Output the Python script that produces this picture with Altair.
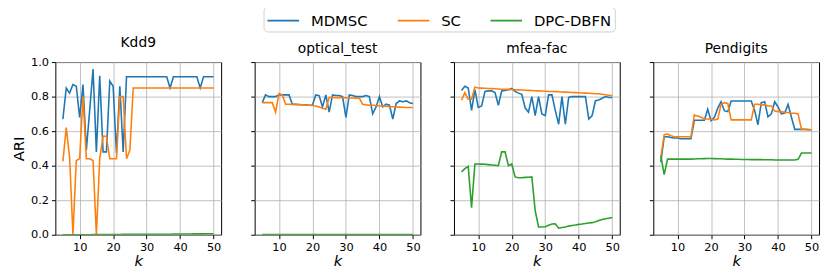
import altair as alt
import pandas as pd

K = list(range(5, 51))
DATASETS = ["Kdd9", "optical_test", "mfea-fac", "Pendigits"]
METHODS = ["MDMSC", "SC", "DPC-DBFN"]
COLORS = ["#1f77b4", "#ff7f0e", "#2ca02c"]

kdd9_mdmsc = [0.67, 0.85, 0.82, 0.87, 0.86, 0.68, 0.87, 0.49, 0.72, 0.96,
              0.48, 0.92, 0.48, 0.48, 0.89, 0.86, 0.47, 0.86, 0.48, 0.915,
              0.915, 0.915, 0.915, 0.915, 0.915, 0.915, 0.915, 0.915, 0.915, 0.915,
              0.915, 0.915, 0.85, 0.915, 0.915, 0.915, 0.915, 0.915, 0.915, 0.915,
              0.915, 0.85, 0.915, 0.915, 0.915, 0.915]
kdd9_sc = [0.425, 0.62, 0.45, 0.0, 0.43, 0.44, 0.80, 0.44, 0.44, 0.43,
           0.0, 0.44, 0.57, 0.57, 0.44, 0.44, 0.44, 0.80, 0.80, 0.44,
           0.49, 0.85, 0.85, 0.85, 0.85, 0.85, 0.85, 0.85, 0.85, 0.85,
           0.85, 0.85, 0.85, 0.85, 0.85, 0.85, 0.85, 0.85, 0.85, 0.85,
           0.85, 0.85, 0.85, 0.85, 0.85, 0.85]
kdd9_dpc = [0.0, 0.0, 0.0, 0.0, 0.0, 0.0, 0.0, 0.0, 0.0, 0.001,
            0.001, 0.001, 0.001, 0.001, 0.001, 0.001, 0.001, 0.001, 0.002, 0.002,
            0.002, 0.002, 0.002, 0.002, 0.002, 0.002, 0.003, 0.003, 0.003, 0.003,
            0.003, 0.003, 0.003, 0.004, 0.004, 0.004, 0.004, 0.004, 0.004, 0.005,
            0.005, 0.005, 0.005, 0.006, 0.006, 0.006]

opt_mdmsc = [0.765, 0.81, 0.80, 0.80, 0.80, 0.81, 0.81, 0.81, 0.81, 0.756,
             0.755, 0.754, 0.753, 0.752, 0.75, 0.75, 0.81, 0.806, 0.74, 0.81,
             0.71, 0.81, 0.806, 0.806, 0.80, 0.68, 0.81, 0.806, 0.80, 0.80,
             0.80, 0.806, 0.80, 0.70, 0.74, 0.80, 0.74, 0.756, 0.75, 0.67,
             0.76, 0.775, 0.77, 0.775, 0.765, 0.76]
opt_sc = [0.765, 0.765, 0.765, 0.765, 0.71, 0.817, 0.81, 0.756, 0.756, 0.755,
          0.754, 0.753, 0.752, 0.751, 0.75, 0.748, 0.746, 0.74, 0.733, 0.727,
          0.795, 0.795, 0.794, 0.794, 0.793, 0.793, 0.792, 0.792, 0.791, 0.791,
          0.755, 0.752, 0.75, 0.75, 0.748, 0.746, 0.745, 0.744, 0.742, 0.741,
          0.74, 0.739, 0.738, 0.737, 0.737, 0.737]
opt_dpc = [0.001, 0.001, 0.001, 0.001, 0.001, 0.001, 0.001, 0.001, 0.001, 0.001,
           0.001, 0.001, 0.001, 0.001, 0.001, 0.001, 0.001, 0.001, 0.001, 0.001,
           0.001, 0.001, 0.001, 0.001, 0.001, 0.001, 0.001, 0.001, 0.001, 0.001,
           0.001, 0.001, 0.001, 0.001, 0.001, 0.001, 0.001, 0.001, 0.001, 0.001,
           0.001, 0.001, 0.001, 0.001, 0.001, 0.001]

mfea_mdmsc = [0.836, 0.86, 0.85, 0.72, 0.84, 0.737, 0.746, 0.83, 0.833, 0.833,
              0.823, 0.75, 0.833, 0.836, 0.84, 0.848, 0.83, 0.82, 0.813, 0.735,
              0.71, 0.80, 0.69, 0.80, 0.70, 0.69, 0.81, 0.81, 0.72, 0.64,
              0.80, 0.64, 0.795, 0.80, 0.80, 0.80, 0.80, 0.80, 0.67, 0.69,
              0.776, 0.78, 0.79, 0.80, 0.795, 0.795]
mfea_sc = [0.78, 0.823, 0.785, 0.785, 0.855, 0.85, 0.849, 0.848, 0.847, 0.846,
           0.845, 0.844, 0.843, 0.842, 0.842, 0.841, 0.84, 0.839, 0.838, 0.837,
           0.836, 0.835, 0.834, 0.833, 0.832, 0.831, 0.83, 0.83, 0.829, 0.828,
           0.827, 0.826, 0.825, 0.824, 0.823, 0.822, 0.821, 0.82, 0.819, 0.818,
           0.817, 0.816, 0.814, 0.811, 0.808, 0.805]
mfea_dpc = [0.364, 0.383, 0.396, 0.157, 0.41, 0.41, 0.409, 0.408, 0.406, 0.404,
            0.402, 0.40, 0.48, 0.48, 0.40, 0.41, 0.335, 0.33, 0.33, 0.332,
            0.333, 0.335, 0.14, 0.045, 0.045, 0.046, 0.055, 0.062, 0.063, 0.038,
            0.042, 0.045, 0.05, 0.053, 0.056, 0.06, 0.062, 0.065, 0.068, 0.07,
            0.075, 0.082, 0.088, 0.092, 0.096, 0.10]

pen_mdmsc = [0.42, 0.567, 0.567, 0.563, 0.56, 0.56, 0.556, 0.556, 0.556, 0.556,
             0.663, 0.663, 0.663, 0.663, 0.727, 0.66, 0.68, 0.733, 0.77, 0.717,
             0.713, 0.775, 0.775, 0.775, 0.775, 0.775, 0.775, 0.775, 0.72, 0.637,
             0.765, 0.77, 0.683, 0.70, 0.77, 0.74, 0.70, 0.705, 0.755, 0.68,
             0.61, 0.61, 0.61, 0.61, 0.608, 0.608]
pen_sc = [0.45, 0.58, 0.583, 0.573, 0.567, 0.567, 0.567, 0.567, 0.567, 0.567,
          0.694, 0.688, 0.68, 0.67, 0.67, 0.67, 0.665, 0.67, 0.756, 0.765,
          0.76, 0.665, 0.665, 0.665, 0.665, 0.665, 0.665, 0.665, 0.756, 0.756,
          0.752, 0.752, 0.746, 0.746, 0.717, 0.713, 0.713, 0.708, 0.708, 0.704,
          0.704, 0.70, 0.61, 0.61, 0.61, 0.608]
pen_dpc = [0.458, 0.348, 0.438, 0.438, 0.438, 0.438, 0.438, 0.438, 0.438, 0.438,
           0.439, 0.44, 0.44, 0.441, 0.442, 0.442, 0.441, 0.44, 0.44, 0.439,
           0.438, 0.438, 0.437, 0.437, 0.436, 0.436, 0.436, 0.435, 0.435, 0.435,
           0.435, 0.434, 0.434, 0.434, 0.433, 0.433, 0.433, 0.433, 0.433, 0.433,
           0.433, 0.437, 0.473, 0.473, 0.473, 0.473]

SERIES = {
    "Kdd9": [kdd9_mdmsc, kdd9_sc, kdd9_dpc],
    "optical_test": [opt_mdmsc, opt_sc, opt_dpc],
    "mfea-fac": [mfea_mdmsc, mfea_sc, mfea_dpc],
    "Pendigits": [pen_mdmsc, pen_sc, pen_dpc],
}

rows = []
for ds in DATASETS:
    for mi, m in enumerate(METHODS):
        for k, v in zip(K, SERIES[ds][mi]):
            rows.append({"dataset": ds, "method": m, "mi": mi, "k": k, "ari": v})
df = pd.DataFrame(rows)

legend = alt.Legend(
    title=None, orient="none", legendX=211, legendY=-56, direction="horizontal",
    columns=3, symbolType="M-1,0H2.2", symbolSize=400, symbolStrokeWidth=1.6,
    labelFontSize=15, labelFont="DejaVu Sans", labelColor="black", labelOffset=23,
    columnPadding=26, padding=3, strokeColor="#d0d0d0", fillColor="white",
    cornerRadius=4,
)


def panel(name, first):
    return (
        alt.Chart(df)
        .transform_filter(alt.datum.dataset == name)
        .mark_line(strokeWidth=1.6, clip=True)
        .encode(
            x=alt.X("k:Q", scale=alt.Scale(domain=[2.75, 52.25], nice=False, zero=False),
                    axis=alt.Axis(values=[10, 20, 30, 40, 50], title="k",
                                  titleFontStyle="italic", titlePadding=1)),
            y=alt.Y("ari:Q", scale=alt.Scale(domain=[0, 1], nice=False),
                    axis=alt.Axis(values=[0, 0.2, 0.4, 0.6, 0.8, 1.0], format=".1f",
                                  labels=first, title="ARI" if first else None,
                                  titlePadding=4)),
            color=alt.Color("method:N", sort=METHODS,
                            scale=alt.Scale(domain=METHODS, range=COLORS),
                            legend=legend),
            order=alt.Order("k:Q"),
        )
        .properties(width=168, height=175, title=name)
    )


chart = (
    alt.hconcat(*[panel(n, i == 0) for i, n in enumerate(DATASETS)],
                spacing=34, bounds="flush")
    .properties(padding={"top": -4, "left": 3, "right": 3, "bottom": 3})
    .configure_view(stroke="black", strokeWidth=1)
    .configure_axis(grid=True, gridColor="#b0b0b0", gridWidth=0.8, domain=False,
                    tickColor="black", tickSize=4, tickWidth=1,
                    labelFont="DejaVu Sans", labelFontSize=11.5, labelColor="black",
                    labelPadding=3, titleFont="DejaVu Sans", titleFontSize=15,
                    titleFontWeight="normal", titleColor="black")
    .configure_title(font="DejaVu Sans", fontSize=14, fontWeight="normal",
                     offset=6, color="black")
)

chart.save("out.html", embed_options={"renderer": "svg", "actions": False})
